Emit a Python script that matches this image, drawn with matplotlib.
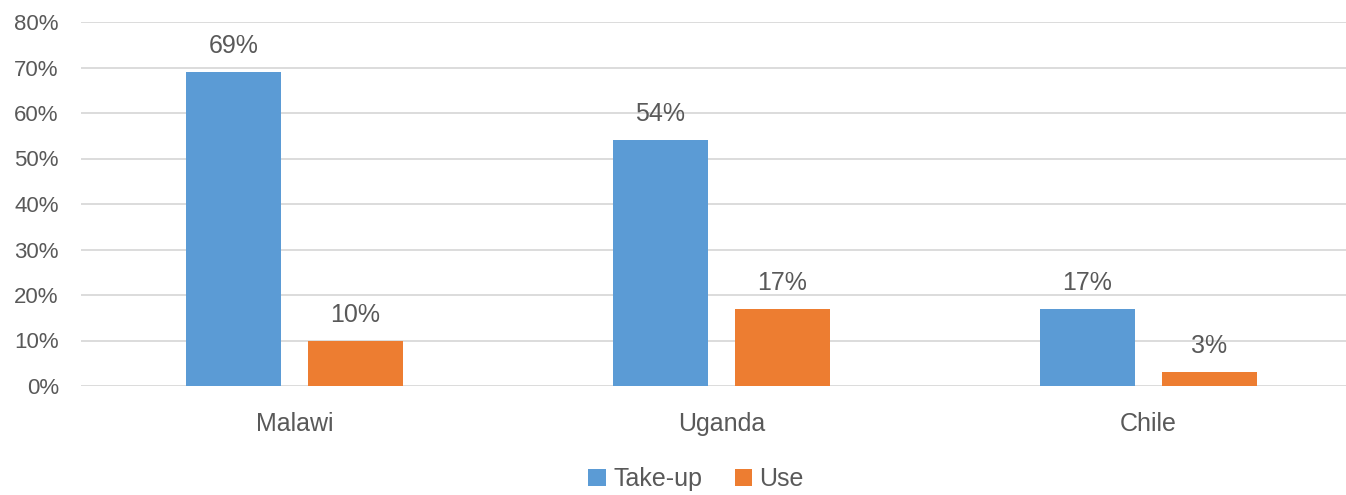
import matplotlib
matplotlib.use("Agg")
import matplotlib.pyplot as plt
import numpy as np

# datos del grafico
paises = ["Malawi", "Uganda", "Chile"]
take_up = [0.69, 0.54, 0.17]
use = [0.10, 0.17, 0.03]
series = ["Take-up", "Use"]

azul = "#5B9BD5"
naranja = "#ED7D31"
gris = "#595959"

plt.rcParams["font.family"] = ["Liberation Sans", "DejaVu Sans"]

fig = plt.figure(figsize=(13.46, 4.95), dpi=100)
W, H = 1346, 495
# el area del grafico sale un poco por la derecha, como en la imagen original
ax = fig.add_axes([81 / W, (H - 386) / H, (1362 - 81) / W, (386 - 22) / H])

x = np.arange(len(paises))
ancho = 0.2225
desp = 0.143

b1 = ax.bar(x - desp, take_up, ancho, color=azul, label=series[0], zorder=2)
b2 = ax.bar(x + desp, use, ancho, color=naranja, label=series[1], zorder=2)

# etiquetas de valores encima de las barras
for barras in (b1, b2):
    for b in barras:
        v = b.get_height()
        ax.annotate(f"{v * 100:.0f}%", (b.get_x() + b.get_width() / 2, v),
                    xytext=(0, 10), textcoords="offset points",
                    ha="center", va="bottom", fontsize=18, color=gris)

ax.set_xlim(-0.5, 2.5)
ax.set_ylim(0, 0.8)
ax.set_yticks(np.arange(0, 0.81, 0.1))
ax.set_yticklabels([f"{int(round(t * 100))}%" for t in np.arange(0, 0.81, 0.1)])
ax.set_xticks(x)
ax.set_xticklabels(paises)

ax.yaxis.grid(True, color="#D9D9D9", linewidth=1.3, zorder=0)
ax.set_axisbelow(True)
for s in ax.spines.values():
    s.set_visible(False)
ax.tick_params(axis="y", length=0, pad=16, labelsize=16, labelcolor=gris)
ax.tick_params(axis="x", length=0, pad=19, labelsize=18, labelcolor=gris)

fig.legend(loc="center", bbox_to_anchor=(696 / W, 1 - 479 / H), ncol=2,
           frameon=False, fontsize=18, labelcolor=gris, handlelength=0.7,
           handleheight=0.7, handletextpad=0.3, columnspacing=1.3)

fig.savefig("out.png", dpi=100)
